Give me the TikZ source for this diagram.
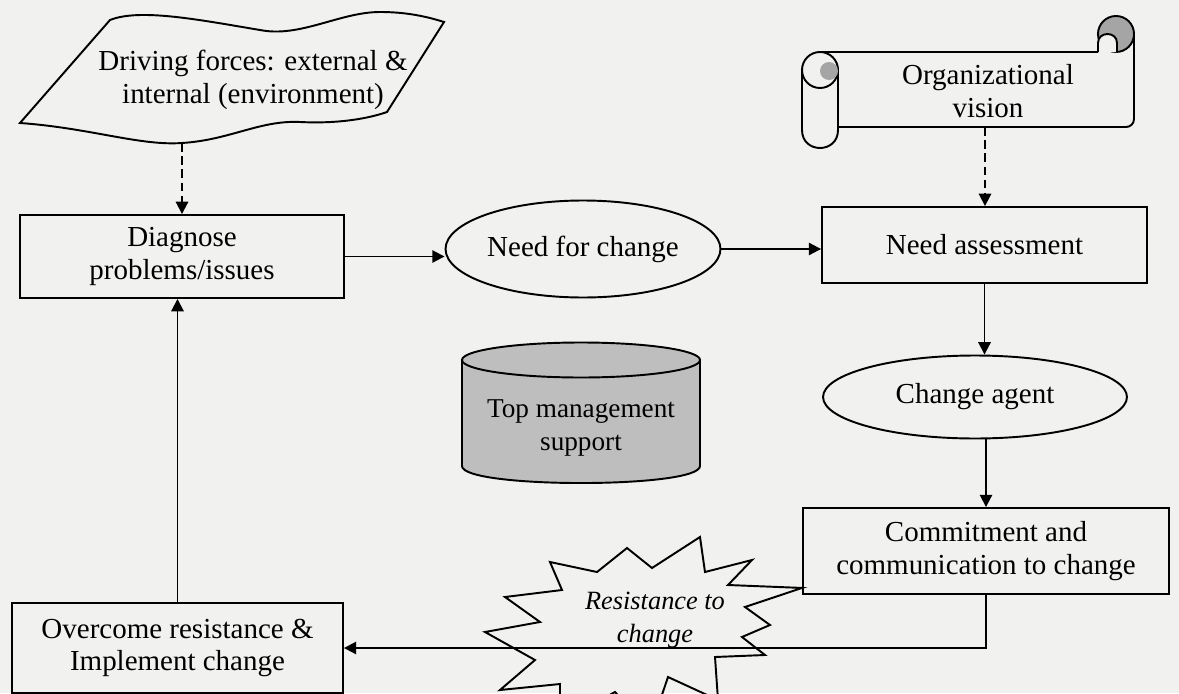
\documentclass[tikz,border=0pt]{standalone}
\usepackage{fontspec}
\setmainfont{Liberation Serif}
\usetikzlibrary{shapes.geometric,arrows,arrows.meta,positioning}
\definecolor{paper}{RGB}{241,241,239}
\definecolor{drum}{RGB}{190,190,190}
\definecolor{curl}{RGB}{165,165,165}
\tikzset
{
    boxnode/.style = {rectangle, draw=black, line width=1.1pt, align=center, inner sep=0pt, font=\fontsize{16.5}{18.5}\selectfont},
    ovalnode/.style = {ellipse, draw=black, line width=1.1pt, align=center, inner sep=0pt, font=\fontsize{16.5}{18.5}\selectfont},
    textnode/.style = {align=center, inner sep=0pt, font=\fontsize{16.5}{18.5}\selectfont},
    outline/.style = {draw=black, line width=1.1pt},
    flow/.style = {->, line width=1.1pt},
    hint/.style = {->, line width=1.1pt, dash pattern=on 5pt off 2.5pt}
}

\begin{document}
\begin{tikzpicture}[>={Triangle[length=7pt,width=7pt]}, x=0.02cm, y=-0.02cm]
    \fill[paper] (0,0) rectangle (1179,693);
    \useasboundingbox (0,0) rectangle (1179,693);

    % flag
    \draw[outline] (110,20) .. controls (140,8) and (200,20) .. (260,30)
        .. controls (300,38) and (340,12) .. (380,12) .. controls (405,12) and (425,16) .. (444,22)
        -- (387,112) .. controls (370,118) and (340,124) .. (300,122)
        .. controls (260,120) and (230,140) .. (182,143) .. controls (140,146) and (90,128) .. (20,123) -- cycle;
    \node[textnode] (drive) at (253,80) {Driving forces: external \&\\internal (environment)};
    \coordinate (flagfoot) at (182,143);

    % scroll
    \draw[outline] (820,52) -- (1098,52);
    \draw[outline] (1134,34) -- (1134,119) .. controls (1134,124) and (1130,127) .. (1126,127) -- (838,127);
    \draw[outline, fill=paper] (802,70) -- (802,130) .. controls (802,154) and (838,154) .. (838,130) -- (838,70);
    \draw[outline, fill=paper] (820,70) circle [radius=18];
    \fill[curl] (829,71) circle [radius=9];
    \draw[outline, fill=curl] (1116,34) circle [radius=18];
    \draw[outline, fill=paper] (1098,52) -- (1098,43) .. controls (1098,31) and (1117,31) .. (1117,43) -- (1117,52);
    \node[textnode] (vision) at (988,91) {Organizational\\vision};
    \coordinate (scrollfoot) at (985,127);

    % boxes and ovals
    \node[boxnode, minimum width=6.48cm, minimum height=1.66cm] (diag) at (182,256.5) {Diagnose\\problems/issues};
    \node[ovalnode, minimum width=5.5cm, minimum height=1.94cm] (need) at (583,249) {Need for change};
    \node[boxnode, minimum width=6.5cm, minimum height=1.52cm] (assess) at (984.5,245) {Need assessment};
    \node[ovalnode, minimum width=6.08cm, minimum height=1.66cm] (agent) at (975,397) {Change agent};
    \node[boxnode, minimum width=7.32cm, minimum height=1.72cm] (commit) at (986,551) {Commitment and\\communication to change};
    \node[boxnode, minimum width=6.62cm, minimum height=1.8cm] (overcome) at (177.5,648) {Overcome resistance \&\\Implement change};

    % drum
    \draw[outline, fill=drum] (462,360) -- (462,466) .. controls (462,488.7) and (700,488.7) .. (700,466) -- (700,360) -- cycle;
    \draw[outline, fill=drum] (581,360) ellipse [x radius=119, y radius=17.5];
    \node[textnode, font=\fontsize{15.5}{18.5}\selectfont] (mgmt) at (581,428) {Top management\\support};

    % burst
    \filldraw[outline, fill=paper] (700,537) -- (705,572) -- (752,560) -- (728,585) -- ([yshift=4pt]commit.south west)
        -- (745,607) -- (770,625) -- (742,637) -- (765,655) -- (715,657) -- (718,700) -- (668,677)
        -- (650,730) -- (615,692) -- (560,722) -- (560,684) -- (500,690) -- (535,660) -- (485,632)
        -- (540,622) -- (505,597) -- (562,590) -- (550,562) -- (597,572) -- (627,548) -- (652,568) -- cycle;
    \node[textnode, font=\fontsize{15}{18.5}\itshape] (resist) at (655,620) {Resistance to\\change};

    % ------------------------------------------------ connectors
    \draw[hint] (flagfoot) -- (diag.north);
    \draw[hint] (scrollfoot) -- (scrollfoot |- assess.north);
    \draw[flow] (diag.east) -- (diag.east -| need.west);
    \draw[flow] (need.east) -- (need.east -| assess.west);
    \draw[flow] (assess.south) -- (assess.south |- agent.north);
    \draw[flow] (agent.south -| commit.north) -- (commit.north);
    \draw[flow] (commit.south) |- (overcome.east);
    \draw[flow] (overcome.north) -- (overcome.north |- diag.south);
\end{tikzpicture}
\end{document}
